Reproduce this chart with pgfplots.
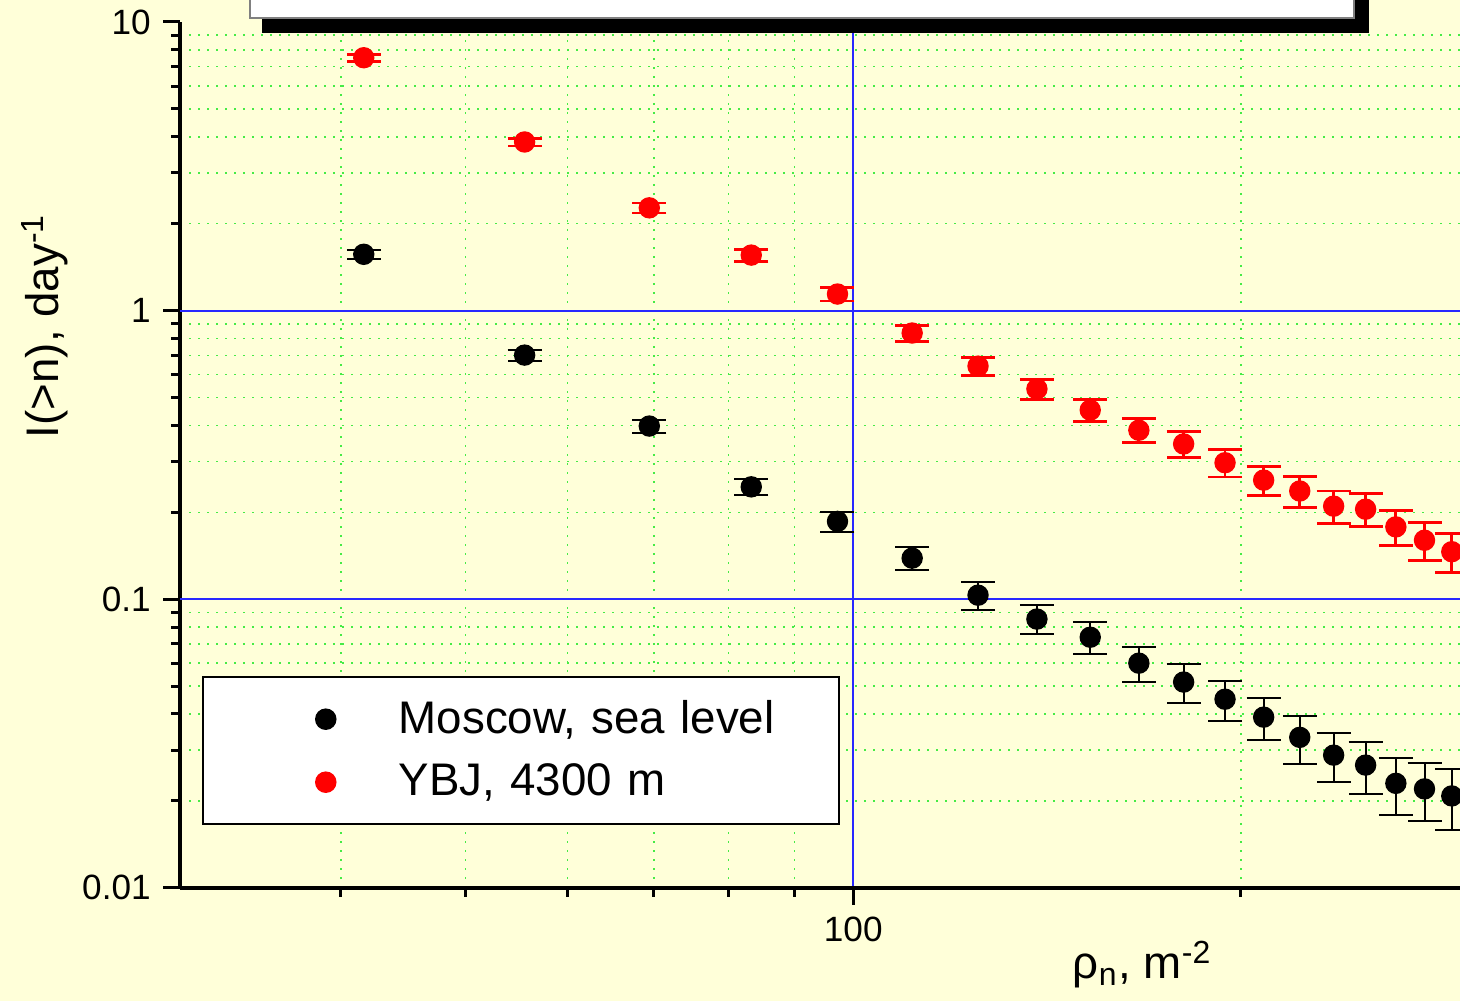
\documentclass[border=0pt]{standalone}
\usepackage{pgfplots}
\pgfplotsset{compat=1.18}
\usepackage{pgfplotstable}
\usepackage{fontspec}
\setmainfont{Liberation Sans}

\definecolor{bgyellow}{RGB}{255,255,217}
\definecolor{gridblue}{RGB}{40,40,255}
\definecolor{gridgreen}{RGB}{70,235,70}

% x = n / 0.072 m^2, n = 3..21
\pgfplotstableread{
x      y       e
41.67  1.567   0.055
55.56  0.701   0.031
69.44  0.398   0.021
83.33  0.245   0.015
97.22  0.186   0.0147
111.11 0.1387  0.0128
125.00 0.1032  0.0113
138.89 0.0853  0.0098
152.78 0.0738  0.0094
166.67 0.0600  0.0083
180.56 0.0516  0.0078
194.44 0.0450  0.0071
208.33 0.0390  0.0066
222.22 0.0332  0.0063
236.11 0.0288  0.0056
250.00 0.0266  0.0055
263.89 0.0230  0.0051
277.78 0.0220  0.0050
291.67 0.0208  0.0049
}\moscow

\pgfplotstableread{
x      y       e
41.67  7.52    0.20
55.56  3.84    0.12
69.44  2.27    0.09
83.33  1.557   0.074
97.22  1.141   0.061
111.11 0.836   0.054
125.00 0.642   0.047
138.89 0.535   0.043
152.78 0.452   0.040
166.67 0.385   0.037
180.56 0.345   0.035
194.44 0.297   0.032
208.33 0.2585  0.030
222.22 0.237   0.029
236.11 0.210   0.027
250.00 0.205   0.027
263.89 0.178   0.025
277.78 0.160   0.024
291.67 0.146   0.0225
}\ybj

\begin{document}
\begin{tikzpicture}
\fill[bgyellow] (-1.8,-1.133) rectangle (12.8,8.877);
\useasboundingbox (-1.8,-1.133) rectangle (12.8,8.877);
\begin{axis}[
  xmode=log, ymode=log,
  scale only axis, width=12.8cm, height=8.657cm,
  xmin=30, xmax=296, ymin=0.01, ymax=10,
  axis x line*=bottom, axis y line*=left,
  axis line style={-, line width=0.38mm},
  xtick={100}, xticklabels={100},
  minor xtick={40,50,60,70,80,90,200},
  ytick={0.01,0.1,1,10}, yticklabels={0.01,0.1,1,10},
  minor ytick={0.02,0.03,0.04,0.05,0.06,0.07,0.08,0.09,0.2,0.3,0.4,0.5,0.6,0.7,0.8,0.9,2,3,4,5,6,7,8,9},
  extra y ticks={0.1,1}, extra y tick labels={},
  extra y tick style={ymajorgrids=true},
  tick align=outside, major tick length=1.7mm, minor tick length=0.9mm,
  every tick/.style={black, line width=0.3mm},
  xmajorgrids=true, xminorgrids=true, yminorgrids=true,
  major grid style={gridblue, line width=0.2mm, solid},
  minor grid style={gridgreen, line width=0.15mm, dash pattern=on 0.15mm off 0.75mm},
  tick label style={font=\fontsize{10}{12}\selectfont},
  label style={font=\fontsize{13}{15}\selectfont},
  xlabel={ρ\textsubscript{n}, m\textsuperscript{-2}},
  xlabel style={at={(axis description cs:0.752,-0.089)}, anchor=center},
  ylabel={I(>n), day\textsuperscript{-1}},
  ylabel style={at={(axis description cs:-0.1055,0.649)}, anchor=center},
  legend style={at={(axis description cs:0.0172,0.0725)}, anchor=south west,
    draw=black, line width=0.15mm, fill=white,
    inner xsep=0pt, inner ysep=0.105cm, row sep=0pt, column sep=0.43cm,
    font=\fontsize{13}{15}\selectfont,
    nodes={inner sep=0pt, text width=4.4cm, align=left}},
  legend image code/.code={
    \path[draw=none, fill=none] (-1.23cm,-0.315cm) rectangle (0.3cm,0.315cm);
    \draw[mark repeat=2, mark phase=2, #1] plot coordinates {(-0.1cm,0cm) (0cm,0cm) (0.1cm,0cm)};},
]
\addplot[only marks, mark=*, mark size=1mm, black, mark options={fill=black},
  error bars/.cd, y dir=both, y explicit,
  error bar style={line width=0.2mm, black},
  error mark options={rotate=90, mark size=1.7mm, line width=0.2mm, black}]
  table[x=x, y=y, y error=e] {\moscow};
\addlegendentry{Moscow, sea level}
\addplot[only marks, mark=*, mark size=1mm, red, mark options={fill=red},
  error bars/.cd, y dir=both, y explicit,
  error bar style={line width=0.28mm, red},
  error mark options={rotate=90, mark size=1.7mm, line width=0.28mm, red}]
  table[x=x, y=y, y error=e] {\ybj};
\addlegendentry{YBJ, 4300 m}
\end{axis}
% title box (cut off at the top)
\fill[black] (0.82,8.547) rectangle (11.89,9.5);
\filldraw[fill=white, draw=gray, line width=0.15mm] (0.70,8.697) rectangle (11.74,9.5);
\end{tikzpicture}
\end{document}
